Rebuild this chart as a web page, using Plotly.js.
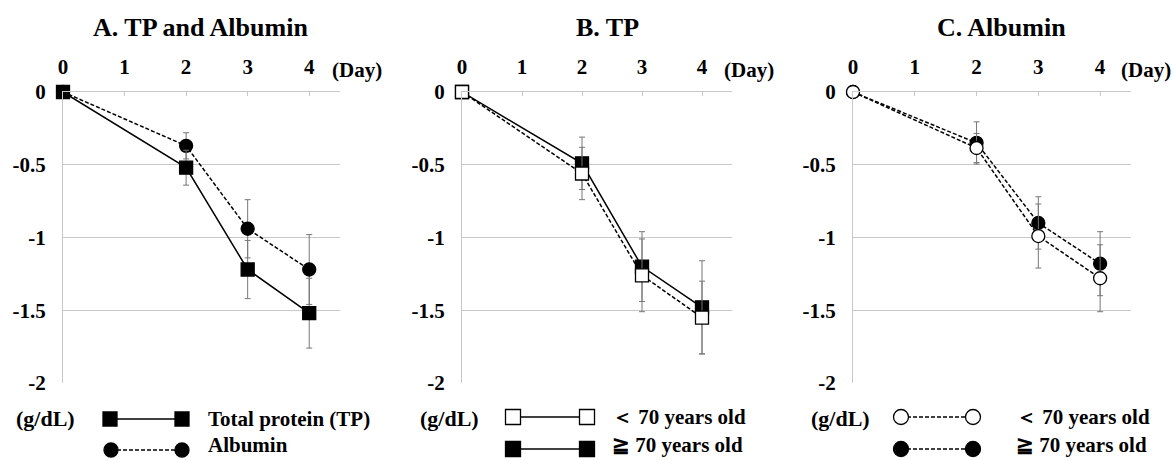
<!DOCTYPE html>
<html>
<head>
<meta charset="utf-8">
<script src="https://cdn.plot.ly/plotly-3.0.1.min.js"></script>
<style>html,body{margin:0;padding:0;background:#fff}#chart{width:1174px;height:460px}</style>
</head>
<body>
<div id="chart"></div>
<script>
// ---------- data ----------
const days = [0, 2, 3, 4];
const dayTicks = [0, 1, 2, 3, 4];
const dayTickText = ['0', '1', '2', '3', '4'];
const yTicks = [0, -0.5, -1, -1.5, -2];
const yTickText = ['0', '-0.5', '-1', '-1.5', '-2'];

// Panel A: all patients
const tpAll = [0, -0.52, -1.22, -1.52];
const tpAllSd = [0, 0.12, 0.20, 0.24];
const albAll = [0, -0.37, -0.94, -1.22];
const albAllSd = [0, 0.09, 0.20, 0.24];

// Panel B: TP by age
const tpUnder70 = [0, -0.56, -1.26, -1.55];
const tpUnder70Sd = [0, 0.18, 0.25, 0.25];
const tpOver70 = [0, -0.49, -1.20, -1.48];
const tpOver70Sd = [0, 0.18, 0.24, 0.32];

// Panel C: Albumin by age
const albUnder70 = [0, -0.385, -0.99, -1.28];
const albUnder70Sd = [0, 0.10, 0.22, 0.23];
const albOver70 = [0, -0.35, -0.90, -1.18];
const albOver70Sd = [0, 0.145, 0.18, 0.22];

const panelTitles = ['A. TP and Albumin', 'B. TP', 'C. Albumin'];
const legendA = ['Total protein (TP)', 'Albumin'];
const legendBC = ['＜ 70 years old', '≧ 70 years old'];
const unitLabel = '(g/dL)';
const dayLabel = '(Day)';

// ---------- styling ----------
const W = 1174, H = 460;
const FONT = 'Liberation Serif, Times New Roman, serif';
const px = v => v / W;
const py = v => 1 - v / H;
const GRID = '#c8c8c8';
const ERR = '#777';
const DASH = '4px,2px';
const TICK = 21;

function errY(sd) {
  return {type: 'data', array: sd, visible: true, color: ERR, thickness: 1, width: 3};
}
function trace(y, sd, xa, ya, symbol, fill, dash, size) {
  return {
    x: days, y: y, xaxis: xa, yaxis: ya, type: 'scatter', mode: 'lines+markers',
    cliponaxis: false, showlegend: false, hoverinfo: 'skip',
    line: {color: '#000', width: 1.5, dash: dash},
    marker: {symbol: symbol, size: size, color: fill, line: {color: '#000', width: 1.3}},
    error_y: errY(sd)
  };
}

const data = [
  trace(albAll, albAllSd, 'x', 'y', 'circle', '#000', DASH, 13),
  trace(tpAll, tpAllSd, 'x', 'y', 'square', '#000', 'solid', 13),
  trace(tpOver70, tpOver70Sd, 'x2', 'y2', 'square', '#000', 'solid', 13),
  trace(tpUnder70, tpUnder70Sd, 'x2', 'y2', 'square', '#fff', DASH, 13),
  trace(albOver70, albOver70Sd, 'x3', 'y3', 'circle', '#000', DASH, 13),
  trace(albUnder70, albUnder70Sd, 'x3', 'y3', 'circle', '#fff', DASH, 13)
];

const xDomains = [[px(63), px(340)], [px(462), px(732)], [px(853), px(1131)]];
const yDomain = [py(383), py(92)];

const layout = {
  width: W, height: H, autosize: false,
  margin: {l: 0, r: 0, t: 0, b: 0, pad: 0},
  paper_bgcolor: '#fff', plot_bgcolor: '#fff',
  font: {family: FONT, color: '#000', size: 20, weight: 'bold'},
  annotations: [], shapes: []
};

const axNames = ['', '2', '3'];
axNames.forEach((n, i) => {
  layout['xaxis' + n] = {
    domain: xDomains[i], anchor: 'y' + n, side: 'top', range: [0, 4.5],
    tickmode: 'array', tickvals: dayTicks, ticktext: dayTickText,
    showgrid: false, zeroline: false, showline: true, linecolor: GRID, linewidth: 1,
    ticks: 'inside', ticklen: 4, tickcolor: GRID, tickwidth: 1,
    ticklabelstandoff: 9,
    tickfont: {family: FONT, size: TICK, color: '#000', weight: 'bold'}, fixedrange: true
  };
  layout['yaxis' + n] = {
    domain: yDomain, anchor: 'x' + n, range: [-2, 0],
    tickmode: 'array', tickvals: yTicks, ticktext: yTickText,
    showgrid: true, gridcolor: GRID, gridwidth: 1, zeroline: false,
    showline: true, linecolor: GRID, linewidth: 1, ticks: '',
    ticklabelstandoff: 12,
    tickfont: {family: FONT, size: TICK, color: '#000', weight: 'bold'}, fixedrange: true
  };
});

// panel titles
const titleX = [200, 607, 1001];
panelTitles.forEach((t, i) => {
  layout.annotations.push({
    text: t, xref: 'paper', yref: 'paper', x: px(titleX[i]), y: py(28),
    xanchor: 'center', yanchor: 'middle', showarrow: false,
    font: {family: FONT, size: 26, color: '#000', weight: 'bold'}
  });
});
// (Day) labels
const dayX = [357, 749, 1146];
dayX.forEach(x => layout.annotations.push({
  text: dayLabel, xref: 'paper', yref: 'paper', x: px(x), y: py(70),
  xanchor: 'center', yanchor: 'middle', showarrow: false,
  font: {family: FONT, size: 21, color: '#000', weight: 'bold'}
}));
// (g/dL) labels
const unitX = [45, 449, 841];
unitX.forEach(x => layout.annotations.push({
  text: unitLabel, xref: 'paper', yref: 'paper', x: px(x), y: py(418),
  xanchor: 'center', yanchor: 'middle', showarrow: false,
  font: {family: FONT, size: 22, color: '#000', weight: 'bold'}
}));

// legend glyphs + text
function legendRow(x1, x2, y, symbol, fill, dash, size, textX, textY, text) {
  layout.shapes.push({type: 'line', xref: 'paper', yref: 'paper',
    x0: px(x1), x1: px(x2), y0: py(y), y1: py(y),
    line: {color: '#000', width: 1.5, dash: dash}});
  [x1, x2].forEach(cx => {
    layout.shapes.push({type: symbol === 'square' ? 'rect' : 'circle', xref: 'paper', yref: 'paper',
      x0: px(cx - size / 2), x1: px(cx + size / 2), y0: py(y + size / 2), y1: py(y - size / 2),
      fillcolor: fill, line: {color: '#000', width: 1.3}});
  });
  layout.annotations.push({
    text: text, xref: 'paper', yref: 'paper', x: px(textX), y: py(textY),
    xanchor: 'left', yanchor: 'middle', showarrow: false,
    font: {family: FONT, size: 21, color: '#000', weight: 'bold'}
  });
}
legendRow(110, 182, 419, 'square', '#000', 'solid', 14, 206, 419, legendA[0]);
legendRow(111, 182, 450, 'circle', '#000', DASH, 14, 206, 445, legendA[1]);
legendRow(513, 587, 417, 'square', '#fff', 'solid', 15, 610, 417, legendBC[0]);
legendRow(513, 587, 449, 'square', '#000', 'solid', 15, 610, 445, legendBC[1]);
legendRow(901, 973, 417, 'circle', '#fff', DASH, 15, 1014, 417, legendBC[0]);
legendRow(901, 973, 449, 'circle', '#000', DASH, 15, 1014, 445, legendBC[1]);

Plotly.newPlot('chart', data, layout, {staticPlot: true, displayModeBar: false});
</script>
</body>
</html>
